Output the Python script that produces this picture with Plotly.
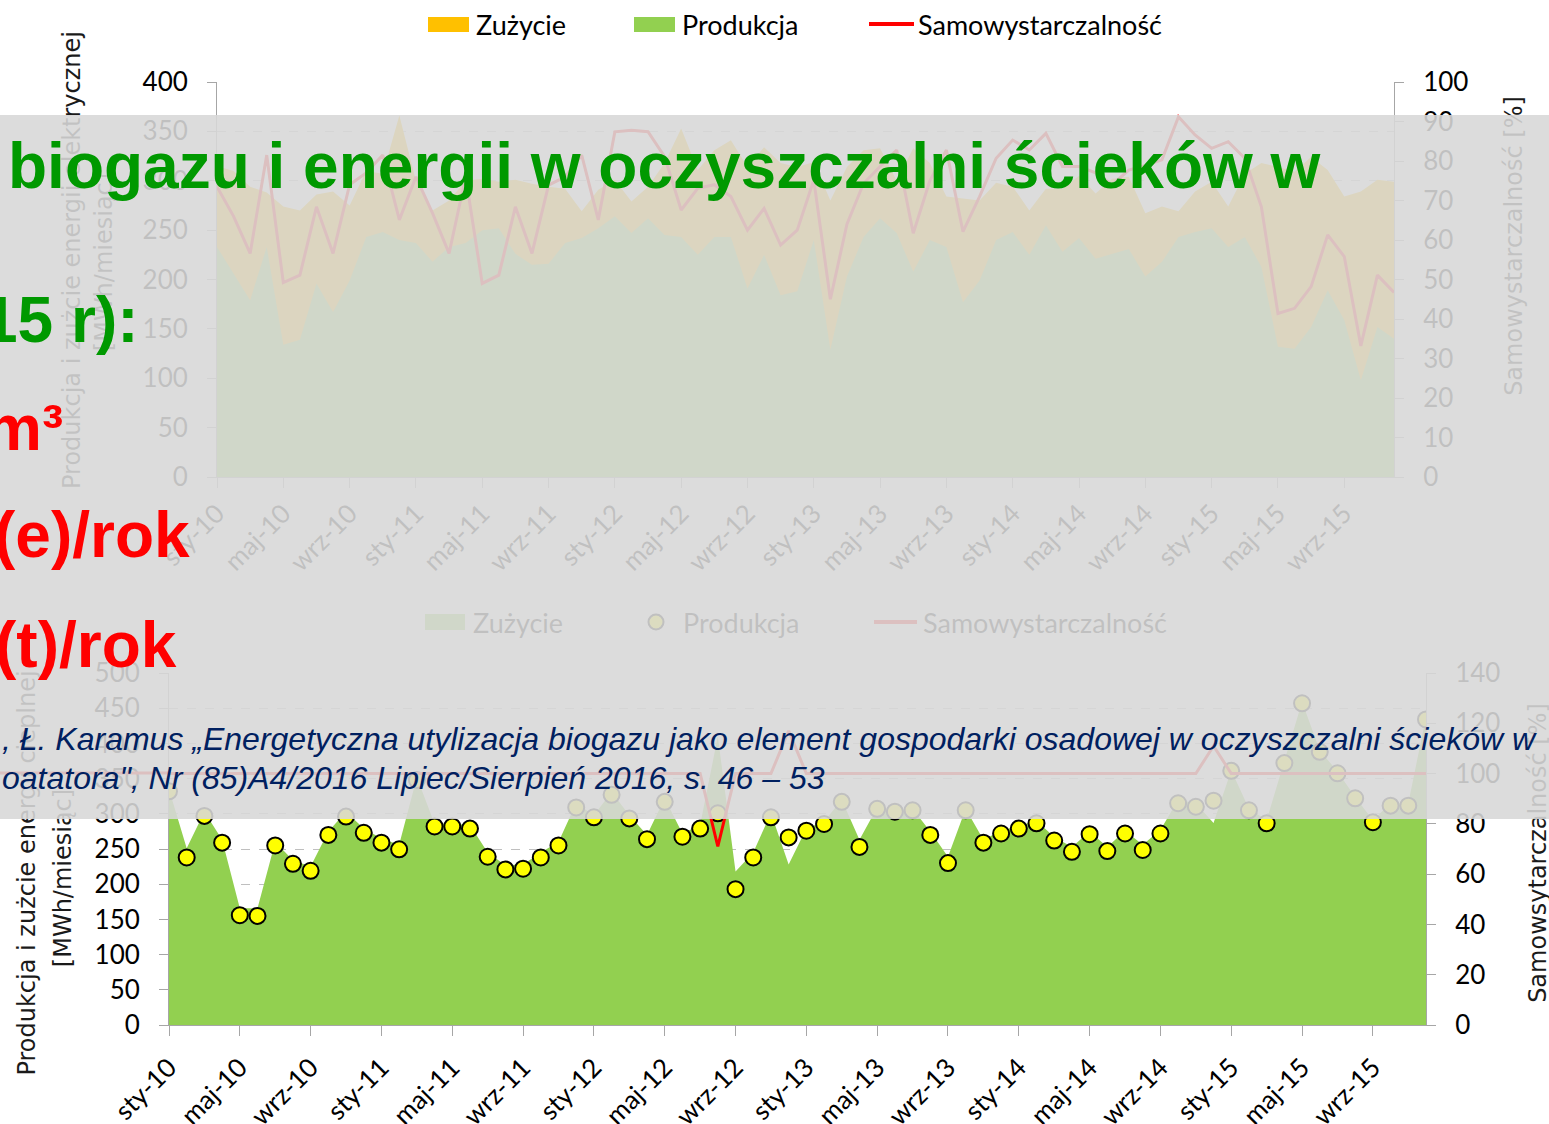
import plotly.graph_objects as go

W, H = 1549, 1124

# ---------------- data ----------------
month_names = ['sty', 'lut', 'mar', 'kwi', 'maj', 'cze', 'lip', 'sie', 'wrz', 'paź', 'lis', 'gru']
years = ['10', '11', '12', '13', '14', '15']
months = [f'{m}-{y}' for y in years for m in month_names]

tick_labels = ['sty-10', 'maj-10', 'wrz-10', 'sty-11', 'maj-11', 'wrz-11', 'sty-12', 'maj-12', 'wrz-12',
               'sty-13', 'maj-13', 'wrz-13', 'sty-14', 'maj-14', 'wrz-14', 'sty-15', 'maj-15', 'wrz-15']

# top chart: electric energy [MWh/month] and self-sufficiency [%]
zuzycie_el = [315, 310, 294, 288, 274, 270, 286, 289, 275, 310, 307, 366,
              300, 270, 280, 300, 302, 299, 301, 297, 294, 292, 269, 291,
              301, 279, 294, 318, 353, 311, 331, 341, 314, 334, 318, 314,
              319, 280, 314, 331, 333, 300, 333, 318, 284, 282, 280, 298,
              294, 270, 292, 292, 305, 287, 302, 304, 267, 274, 269, 289,
              299, 274, 307, 318, 314, 309, 324, 311, 284, 289, 301, 299]
produkcja_el = [233, 206, 179, 233, 134, 139, 196, 167, 199, 243, 248, 240,
                237, 218, 233, 237, 250, 252, 226, 215, 216, 237, 242, 252,
                264, 247, 262, 245, 243, 225, 243, 243, 191, 225, 184, 188,
                240, 129, 203, 243, 262, 247, 208, 240, 233, 177, 199, 240,
                248, 225, 255, 228, 242, 221, 226, 231, 203, 218, 243, 248,
                252, 233, 243, 213, 132, 130, 152, 189, 159, 98, 152, 140]
samowystarczalnosc_el = [73.5, 66, 56.6, 81.5, 49.2, 51.1, 68.4, 56.6, 74, 77, 81.5, 65.1,
                         76, 66.8, 56.6, 76, 49, 51.1, 68.4, 56.6, 73.9, 76, 81.5, 65.1,
                         87.4, 87.8, 87.4, 81.1, 67.6, 73.1, 74, 71, 62.5, 68, 58.7, 62.5,
                         75.2, 45, 64, 74.3, 78.6, 82.8, 61.7, 75, 82.8, 62.1, 71, 80.7,
                         85.3, 82.8, 87, 78.6, 78.6, 77, 74, 77.7, 78.9, 80.3, 91.2, 86.6,
                         83.2, 84.9, 80.7, 68.4, 41.4, 42.7, 48.2, 61.3, 55.8, 33.2, 51.1, 46.7]

# bottom chart: heat [MWh/month] and self-sufficiency [%]
zuzycie_ciep = [335, 251, 303, 263, 166, 166, 260, 234, 225, 275, 303, 279,
                265, 256, 352, 286, 286, 284, 245, 227, 228, 245, 260, 315,
                298, 331, 298, 270, 322, 272, 284, 410, 218, 245, 301, 228,
                279, 289, 320, 263, 309, 305, 307, 275, 239, 307, 263, 276,
                283, 290, 267, 253, 275, 253, 276, 256, 277, 320, 315, 287,
                362, 307, 291, 374, 459, 390, 360, 324, 291, 315, 315, 438]
produkcja_ciep = [332, 238, 297, 259, 156, 155, 255, 229, 219, 270, 296, 273,
                  259, 249.5, 348, 282, 282, 279, 239, 221, 222, 238, 255, 309,
                  295, 327, 293.5, 264, 317, 267.5, 279, 300.7, 193, 238, 295, 266.5,
                  276, 285.5, 317, 253, 307, 303, 305, 270, 230, 305, 259, 272,
                  279, 286.5, 262, 246, 271, 247, 272, 248.6, 272, 315, 310, 318.6,
                  361, 305, 286.5, 372, 457, 388, 357.5, 322, 288, 311.6, 311.6, 434]
samowystarczalnosc_ciep = [100, 100, 100, 100, 100, 100, 100, 100, 100, 100, 100, 100,
                           100, 100, 100, 100, 100, 100, 100, 100, 100, 100, 100, 100,
                           100, 100, 100, 100, 100, 100, 100, 71, 100, 100, 100, 117,
                           100, 100, 100, 100, 100, 100, 100, 100, 100, 100, 100, 100,
                           100, 100, 100, 100, 100, 100, 100, 100, 100, 100, 100, 111,
                           100, 100, 100, 100, 100, 100, 100, 100, 100, 100, 100, 100]

# ---------------- helpers ----------------
def px(x):
    return x / W


def py(y):
    return 1 - y / H


AX = '#A6A6A6'
GRID = '#BFBFBF'
TICKFONT = dict(family='Lato, Open Sans, sans-serif', size=26, color='#000000')
LEGFONT = dict(family='Lato, Open Sans, sans-serif', size=27, color='#000000')
TITLEFONT = dict(family='DejaVu Sans, sans-serif', size=24, color='#1a1a1a')

fig = go.Figure()

# top chart traces
fig.add_trace(go.Scatter(x=months, y=zuzycie_el, mode='lines', fill='tozeroy',
                         fillcolor='#FFC000', line=dict(width=0, color='#FFC000'),
                         name='Zużycie', xaxis='x', yaxis='y', showlegend=False))
fig.add_trace(go.Scatter(x=months, y=produkcja_el, mode='lines', fill='tozeroy',
                         fillcolor='#92D050', line=dict(width=0, color='#92D050'),
                         name='Produkcja', xaxis='x', yaxis='y', showlegend=False))
fig.add_trace(go.Scatter(x=months, y=samowystarczalnosc_el, mode='lines',
                         line=dict(width=3, color='#FF0000'),
                         name='Samowystarczalność', xaxis='x', yaxis='y2', showlegend=False))

# bottom chart traces
fig.add_trace(go.Scatter(x=months, y=zuzycie_ciep, mode='lines', fill='tozeroy',
                         fillcolor='#92D050', line=dict(width=0, color='#92D050'),
                         name='Zużycie', xaxis='x2', yaxis='y3', showlegend=False))
fig.add_trace(go.Scatter(x=months, y=produkcja_ciep, mode='markers',
                         marker=dict(size=16, color='#FFFF00', line=dict(color='#000000', width=2)),
                         name='Produkcja', xaxis='x2', yaxis='y3', showlegend=False))
fig.add_trace(go.Scatter(x=months, y=samowystarczalnosc_ciep, mode='lines',
                         line=dict(width=3, color='#FF0000'),
                         name='Samowystarczalność', xaxis='x2', yaxis='y4', showlegend=False))

xcommon = dict(type='category', range=[0, 71], tickmode='array', tickvals=tick_labels,
               ticktext=tick_labels, tickangle=-45, ticks='outside', ticklen=10, tickcolor=AX,
               showline=True, linecolor=AX, linewidth=1, showgrid=False, zeroline=False,
               tickfont=TICKFONT, automargin=False)
ycommon = dict(ticks='outside', ticklen=9, tickcolor=AX, showline=True, linecolor=AX, linewidth=1,
               zeroline=False, tickfont=TICKFONT, ticklabelstandoff=14, automargin=False)

fig.update_layout(
    width=W, height=H, autosize=False,
    margin=dict(l=0, r=0, t=0, b=0, pad=0, autoexpand=False),
    paper_bgcolor='white', plot_bgcolor='white',
    showlegend=False,
    xaxis=dict(domain=[px(217), px(1394)], anchor='y', ticklabelstandoff=0, **xcommon),
    yaxis=dict(domain=[py(477), py(82)], anchor='x', range=[0, 400], tick0=0, dtick=50,
               showgrid=True, gridcolor=GRID, griddash='dash', gridwidth=1, **ycommon),
    yaxis2=dict(overlaying='y', side='right', anchor='x', range=[0, 100], tick0=0, dtick=10,
                showgrid=False, **ycommon),
    xaxis2=dict(domain=[px(169), px(1426)], anchor='y3', ticklabelstandoff=6, **xcommon),
    yaxis3=dict(domain=[py(1025), py(673)], anchor='x2', range=[0, 500], tick0=0, dtick=50,
                showgrid=True, gridcolor=GRID, griddash='dash', gridwidth=1, **ycommon),
    yaxis4=dict(overlaying='y3', side='right', anchor='x2', range=[0, 140], tick0=0, dtick=20,
                showgrid=False, **ycommon),
)

shapes = []


def text_shape(cx, cy, w, h, text, font, angle=0, pos='middle center'):
    return dict(type='rect', xref='paper', yref='paper', layer='above',
                x0=px(cx - w / 2), x1=px(cx + w / 2), y0=py(cy + h / 2), y1=py(cy - h / 2),
                line=dict(width=0), fillcolor='rgba(0,0,0,0)',
                label=dict(text=text, font=font, textangle=angle, textposition=pos, padding=0))


def left_text_shape(x, cy, text, font):
    return dict(type='rect', xref='paper', yref='paper', layer='above',
                x0=px(x), x1=px(x + 300), y0=py(cy + 15), y1=py(cy - 15),
                line=dict(width=0), fillcolor='rgba(0,0,0,0)',
                label=dict(text=text, font=font, textangle=0, textposition='middle left', padding=0))


# --- elements that sit under the grey overlay (drawn first, so they get covered) ---
shapes.append(text_shape(70, 260, 40, 470, 'Produkcja i zużcie energii elektrycznej', TITLEFONT, -90))
shapes.append(text_shape(102, 262, 40, 200, '[MWh/miesiąc]', TITLEFONT, -90))
shapes.append(text_shape(1512, 246, 40, 320, 'Samowystarczalność [%]', TITLEFONT, -90))
shapes.append(dict(type='rect', xref='paper', yref='paper', layer='above',
                   x0=px(425), x1=px(465), y0=py(630), y1=py(614),
                   fillcolor='#92D050', line=dict(width=0)))
shapes.append(left_text_shape(470, 622, 'Zużycie', LEGFONT))
shapes.append(dict(type='circle', xref='paper', yref='paper', layer='above',
                   x0=px(648.5), x1=px(663.5), y0=py(629.5), y1=py(614.5),
                   fillcolor='#FFFF00', line=dict(width=2, color='#000000')))
shapes.append(left_text_shape(680, 622, 'Produkcja', LEGFONT))
shapes.append(dict(type='line', xref='paper', yref='paper', layer='above',
                   x0=px(874), x1=px(917), y0=py(622), y1=py(622),
                   line=dict(width=4, color='#FF0000')))
shapes.append(left_text_shape(920, 622, 'Samowystarczalność', LEGFONT))
# faint red line seen left of the lower chart at the 100 % level
shapes.append(dict(type='line', xref='paper', yref='paper', layer='above',
                   x0=0, x1=px(169), y0=py(773), y1=py(773),
                   line=dict(width=3, color='#FF0000')))
shapes.append(text_shape(25, 873, 40, 440, 'Produkcja i zużcie energii cieplnej', TITLEFONT, -90))
shapes.append(text_shape(61, 878, 40, 200, '[MWh/miesiąc]', TITLEFONT, -90))
shapes.append(text_shape(1536, 853, 40, 320, 'Samowsytarczalność [%]', TITLEFONT, -90))

# --- the translucent grey overlay ---
shapes.append(dict(type='rect', xref='paper', yref='paper', layer='above',
                   x0=-0.01, x1=1.01, y0=py(819), y1=py(115),
                   fillcolor='rgba(216,216,216,0.89)', line=dict(width=0)))

# --- top legend (outside overlay) ---
shapes.append(dict(type='rect', xref='paper', yref='paper', layer='above',
                   x0=px(428), x1=px(469), y0=py(32), y1=py(17),
                   fillcolor='#FFC000', line=dict(width=0)))
shapes.append(dict(type='rect', xref='paper', yref='paper', layer='above',
                   x0=px(634), x1=px(675), y0=py(32), y1=py(17),
                   fillcolor='#92D050', line=dict(width=0)))
shapes.append(dict(type='line', xref='paper', yref='paper', layer='above',
                   x0=px(869), x1=px(914), y0=py(24), y1=py(24),
                   line=dict(width=4, color='#FF0000')))

fig.update_layout(shapes=shapes)

annotations = []


def ann(x, y, text, font, xanchor='left'):
    return dict(xref='paper', yref='paper', x=px(x), y=py(y), text=text, showarrow=False,
                xanchor=xanchor, yanchor='middle', font=font, align='left')


annotations.append(ann(474, 25, 'Zużycie', LEGFONT))
annotations.append(ann(680, 25, 'Produkcja', LEGFONT))
annotations.append(ann(916, 25, 'Samowystarczalność', LEGFONT))

BIG_G = dict(family='Liberation Sans, Arial, sans-serif', size=64, color='#009900')
BIG_R = dict(family='Liberation Sans, Arial, sans-serif', size=64, color='#FF0000')
CIT = dict(family='Liberation Sans, Arial, sans-serif', size=32, color='#002060')

annotations.append(ann(6, 166, '<b>biogazu i energii w oczyszczalni ścieków w</b>', BIG_G))
annotations.append(ann(-20, 320, '<b>15 r):</b>', BIG_G))
annotations.append(ann(-17, 428, '<b>m³</b>', BIG_R))
annotations.append(ann(-8, 535, '<b>(e)/rok</b>', BIG_R))
annotations.append(ann(-7, 645, '<b>(t)/rok</b>', BIG_R))
annotations.append(ann(0, 739, '<i>, Ł. Karamus „Energetyczna utylizacja biogazu jako element gospodarki '
                               'osadowej w oczyszczalni ścieków w</i>', CIT))
annotations.append(ann(0, 778, '<i>oatatora", Nr (85)A4/2016 Lipiec/Sierpień 2016, s. 46 – 53</i>', CIT))

fig.update_layout(annotations=annotations)

fig.write_html('out.html', config={'displayModeBar': False},
               post_script="document.body.style.margin='0';document.body.style.overflow='hidden';")
